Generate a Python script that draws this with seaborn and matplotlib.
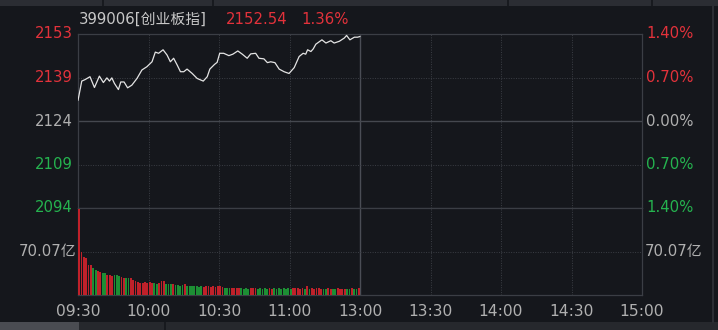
import numpy as np
import pandas as pd
import matplotlib
matplotlib.use("Agg")
import matplotlib.pyplot as plt
import seaborn as sns

# ---------------- data ----------------
prev_close = 2123.66
last_price = 2152.54
last_pct = 1.36

# price line key points (minutes after 09:30, index value)
price_min = [0.0, 1.6, 3.0, 5.1, 7.0, 9.1, 10.8, 12.3, 13.4, 14.4, 15.5, 17.2, 18.2, 19.6,
             21.1, 22.9, 25.1, 27.2, 29.3, 31.5, 32.9, 34.3, 36.2, 37.9, 39.3, 40.7, 42.2,
             43.6, 45.0, 46.4, 48.6, 50.7, 53.3, 55.0, 56.1, 58.1, 59.2, 60.3, 62.0, 64.2,
             65.9, 68.0, 69.9, 72.0, 73.5, 75.6, 77.0, 79.1, 80.6, 82.0, 83.8, 85.6, 87.7,
             89.8, 92.0, 94.1, 95.8, 96.9, 97.7, 99.1, 100.1, 101.2, 103.8, 105.5, 107.6,
             109.0, 111.2, 113.3, 114.3, 115.7, 117.6, 119.0, 120.0]
price_val = [2130.7, 2137.3, 2137.8, 2138.8, 2135.1, 2139.0, 2136.8, 2138.4, 2137.3, 2138.4,
             2136.5, 2134.4, 2137.0, 2137.0, 2135.0, 2135.9, 2138.2, 2141.1, 2142.2, 2143.9,
             2147.2, 2146.8, 2148.0, 2146.2, 2143.9, 2145.1, 2142.8, 2140.5, 2140.5, 2141.4,
             2139.9, 2138.2, 2137.3, 2138.8, 2141.4, 2143.0, 2143.7, 2146.8, 2146.8, 2146.0,
             2146.5, 2147.6, 2146.5, 2145.1, 2146.6, 2146.8, 2145.1, 2144.9, 2143.6, 2143.9,
             2143.6, 2141.4, 2140.5, 2139.9, 2141.9, 2145.7, 2146.8, 2146.5, 2148.0, 2147.4,
             2148.3, 2149.9, 2151.4, 2150.3, 2151.1, 2150.3, 2150.9, 2152.0, 2152.9, 2151.4,
             2152.3, 2152.3, 2152.54]

# per-minute volume (亿) and direction
volume = [139, 69.6, 61, 60, 49, 48, 44, 41, 38, 37,
          35, 35, 33, 32, 30, 33, 32, 30, 29, 28,
          27, 28, 27, 24, 22, 21, 20, 20, 21, 20,
          21, 20, 20, 18, 20, 22, 23, 18, 17, 18,
          17, 16, 16, 15, 16, 17, 15, 14, 14, 15,
          14, 13, 14, 13, 14, 14, 13, 14, 13, 15,
          14, 13, 12, 11, 12, 11, 12, 11, 12, 11,
          10, 11, 10, 11, 12, 11, 10, 11, 10, 11,
          10, 11, 10, 11, 10, 11, 10, 11, 10, 11,
          10, 11, 12, 11, 10, 11, 10, 14, 10, 11,
          10, 12, 11, 10, 9, 10, 11, 10, 9, 10,
          11, 10, 9, 10, 9, 10, 11, 9, 10, 11]
direction = list("RRRRRRGGRRGGRRRGGGRRGGRRRRRRRRRRGGRRRGGG"
                 "RGGGGRGGGGGGGRRRRRRR"
                 "RRGGGRRRRGGGGRRRGGGGGRRGGGGGGG"
                 "GRRRRRGRGRRRRRGGRRGGRRRRGGRGGR")

vol_ref = 70.07
time_labels = ["09:30", "10:00", "10:30", "11:00", "13:00", "13:30", "14:00", "14:30", "15:00"]
time_pos = [0, 30, 60, 90, 120, 150, 180, 210, 240]
pct_steps = [2, 1, 0, -1, -2]

# ---------------- style ----------------
sns.set_theme(style="dark")
plt.rcParams['font.family'] = ['DejaVu Sans', 'Noto Sans CJK SC']

BG = "#15171c"
GRID = "#3b3e45"
RED = "#e3323b"
GREEN = "#25b34f"
GRAY = "#b0b0b0"
BAR_RED = "#c0212a"
BAR_GREEN = "#1d8f34"
FS = 10.7

W, H = 718, 330
fig = plt.figure(figsize=(W / 100, H / 100), dpi=100, facecolor=BG)

def fx(px):
    return px / W

def fy(py):
    return 1 - py / H

x0, x1 = 78, 642
yp0, yp1 = 34, 208
yv1 = 295

axp = fig.add_axes([fx(x0), fy(yp1), fx(x1 - x0), (yp1 - yp0) / H])
axv = fig.add_axes([fx(x0), fy(yv1), fx(x1 - x0), (yv1 - yp1) / H])

# UI chrome strips
fig.patches.append(plt.Rectangle((0, fy(6)), 1, 6 / H, transform=fig.transFigure,
                                 facecolor="#2b2d33", edgecolor="none", zorder=0))
fig.patches.append(plt.Rectangle((0, 0), 1, 8 / H, transform=fig.transFigure,
                                 facecolor="#26282d", edgecolor="none", zorder=0))
fig.patches.append(plt.Rectangle((0, 0), fx(79), 8 / H, transform=fig.transFigure,
                                 facecolor="#4a4c52", edgecolor="none", zorder=0))
for sx in [103, 213, 508, 652]:
    fig.add_artist(plt.Line2D([fx(sx), fx(sx)], [fy(6), 1], color="#15171c", lw=1.2))
fig.add_artist(plt.Line2D([fx(165), fx(165)], [0, fy(322)], color="#15171c", lw=1.2))
fig.add_artist(plt.Line2D([fx(712.5), fx(712.5)], [fy(322), fy(6)], color="#2c2e34", lw=1.5))

step = prev_close * 0.007
ylo, yhi = prev_close - 2 * step, prev_close + 2 * step

for ax in (axp, axv):
    ax.set_facecolor(BG)
    ax.set_xlim(0, 240)
    for s in ax.spines.values():
        s.set_color(GRID)
        s.set_linewidth(0.9)
    ax.set_xticks([])
    ax.set_yticks([])
    ax.grid(False)
    for t in time_pos[1:-1]:
        if t == 120:
            ax.axvline(t, color="#4a4d55", lw=1.0, zorder=1)
        else:
            ax.axvline(t, color=GRID, lw=0.7, ls=(0, (1, 1.5)), zorder=1)

# price panel
axp.set_ylim(ylo, yhi)
axp.axhline(prev_close, color="#45484f", lw=1.0, zorder=1)
for k in (1, -1):
    axp.axhline(prev_close + k * step, color=GRID, lw=0.7, ls=(0, (1, 1.5)), zorder=1)

sns.lineplot(x=price_min, y=price_val, ax=axp, color="#e4e4e4", linewidth=0.9, zorder=3)
axp.set_xlabel("")
axp.set_ylabel("")

for k in pct_steps:
    val = prev_close + k * step
    col = RED if k > 0 else (GREEN if k < 0 else GRAY)
    axp.text(-5 / (x1 - x0) * 240, val, f"{val:.0f}", color=col, fontsize=FS,
             ha="right", va="center", clip_on=False)
    axp.text(240 + 4 / (x1 - x0) * 240, val, f"{abs(k) * 0.7:.2f}%", color=col, fontsize=FS,
             ha="left", va="center", clip_on=False)

# volume panel (bars drawn from the left edge of each minute slot)
dfv = pd.DataFrame({"minute": np.arange(len(volume)), "vol": volume, "dir": direction})
dfv["slot"] = dfv["minute"] + 0.5
sns.barplot(data=dfv, x="slot", y="vol", hue="dir", palette={"R": BAR_RED, "G": BAR_GREEN},
            native_scale=True, dodge=False, width=0.75, legend=False, errorbar=None,
            saturation=1, ax=axv, zorder=4, linewidth=0, edgecolor="none")
axv.set_xlim(0, 240)
axv.set_ylim(0, vol_ref * 2)
axv.set_xticks([])
axv.set_yticks([])
axv.set_xlabel("")
axv.set_ylabel("")
axv.axhline(vol_ref, color=GRID, lw=0.7, ls=(0, (1, 1.5)), zorder=1)
axv.text(-2 / (x1 - x0) * 240, vol_ref, f"{vol_ref:.2f}亿", color=GRAY, fontsize=FS,
         ha="right", va="center", clip_on=False)
axv.text(240 + 3 / (x1 - x0) * 240, vol_ref, f"{vol_ref:.2f}亿", color=GRAY, fontsize=FS,
         ha="left", va="center", clip_on=False)

for lab, t in zip(time_labels, time_pos):
    axv.text(t, -17 / (yv1 - yp1) * vol_ref * 2, lab, color=GRAY, fontsize=FS + 0.5,
             ha="center", va="center", clip_on=False)

# header
fig.text(fx(79), fy(19), "399006[创业板指]", color="#c8c8c8", fontsize=FS, ha="left", va="center")
fig.text(fx(226), fy(19), f"{last_price:.2f}", color=RED, fontsize=FS, ha="left", va="center")
fig.text(fx(301), fy(19), f"{last_pct:.2f}%", color=RED, fontsize=FS, ha="left", va="center")

fig.savefig("out.png", dpi=100, facecolor=BG)
